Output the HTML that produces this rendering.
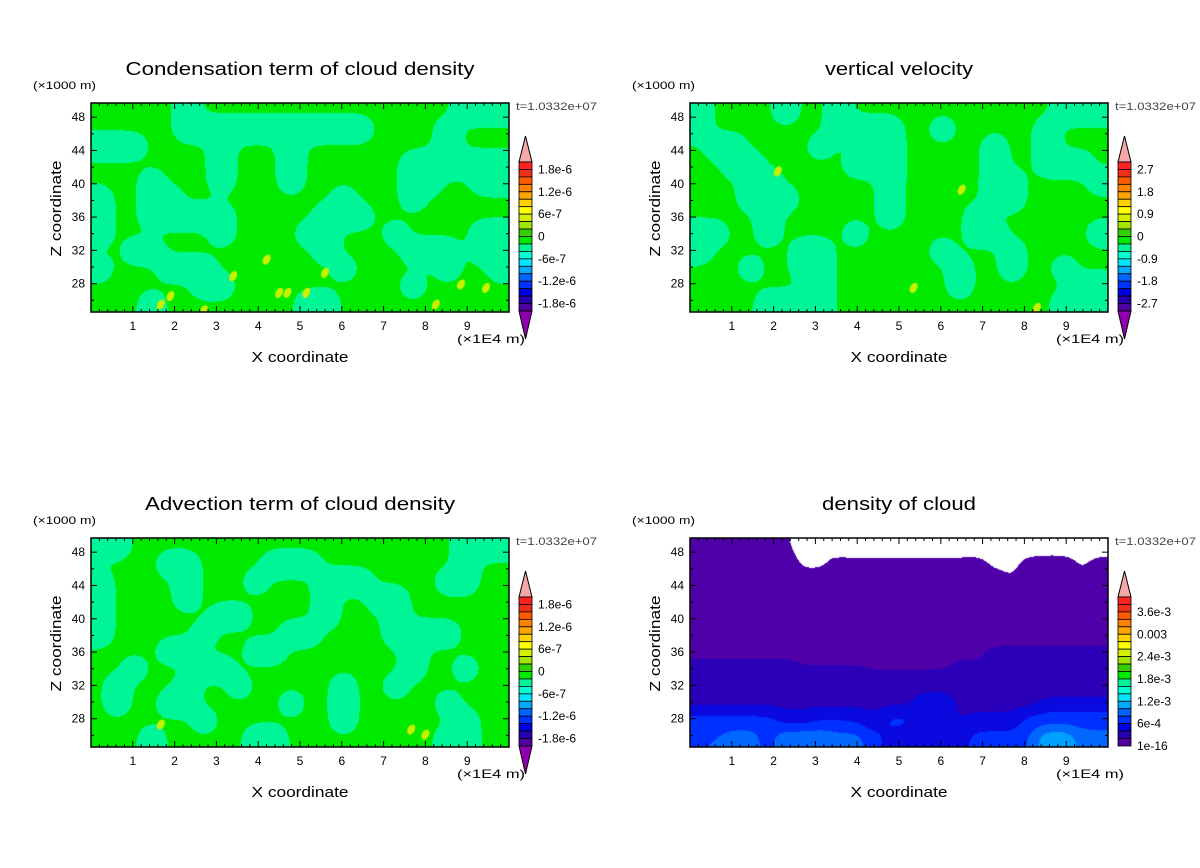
<!DOCTYPE html>
<html><head><meta charset="utf-8">
<style>
html,body{margin:0;padding:0;background:#fff;}
#root{position:relative;width:1200px;height:868px;overflow:hidden;background:#fff;}
canvas{position:absolute;}
svg{position:absolute;left:0;top:0;}
text{font-family:"Liberation Sans",sans-serif;fill:#000;}
</style></head>
<body>
<div id="root">
<canvas id="c1" width="418" height="209" style="left:91px;top:103px"></canvas>
<canvas id="c2" width="418" height="209" style="left:690px;top:103px"></canvas>
<canvas id="c3" width="418" height="209" style="left:91px;top:538px"></canvas>
<canvas id="c4" width="418" height="209" style="left:690px;top:538px"></canvas>
<svg id="ov" width="1200" height="868"></svg>
</div>
<script>
// ---- data ----
const xTicks = [1,2,3,4,5,6,7,8,9];
const yTicks = [28,32,36,40,44,48];
const xRange = [0,10];
const yRange = [24.6,49.7];
const cbColors = ["#FF2020","#F03018","#FF5A00","#FF8200","#FFA500","#FFD200","#FFFF00","#D2F000","#A0E600","#32D200","#00EA00","#00F596","#00FFD2","#00E6FF","#00AAFF","#0064FF","#0032FF","#0000E6","#2800B4","#5000A0"];
const cbLabels1 = ["1.8e-6","1.2e-6","6e-7","0","-6e-7","-1.2e-6","-1.8e-6"];
const cbLabels2 = ["2.7","1.8","0.9","0","-0.9","-1.8","-2.7"];
const cbLabels4 = ["3.6e-3","0.003","2.4e-3","1.8e-3","1.2e-3","6e-4","1e-16"];
const greenLevels = ["#00F596","#00EA00"];
const densityLevels = ["#FFFFFF","#5000A8","#2C00B8","#0A0AE0","#0030FF","#0068FF","#00A0FF","#00E8FF"];
const grid1 = [
"111110111111111111111000","111110000000000011110111","000111101110111111110111",
"111111101110111111000000","111011101110111111001100","011001111111110111011111",
"011000001111100011111111","011111101111001110111100","110011111111101111000100",
"011100011111110111110110","111111001111111111011111","111011111111001111111111"];
const grid2 = [
"011110110111111111111000","011111110000110111110111","100111101100111110110111",
"110011111000111110110001","111001111110111110011110","111000111110111110011111",
"111101111110111101111111","001101111011111100111110","011111001111110111011111",
"111011001111111011011011","111111101111111011111100","111100001111111111111000"];
const grid3 = [
"001111111111111111111000","111100111100011111111011","011110111011100011110011",
"011110111111101100111111","011111100111101110111111","011111011110011110000111",
"111100111001111111011111","110111001111111111011011","101110110111110110111111",
"101100111110110111110111","111111011111110111111011","111011111001111111110011"];
const grid4 = [
[0.7,0.7,0.7,0.7,0.6,0.6,0.2,0.6,0.2,0,0,0,0,0,0,0,0,0,0,0,0,0,0,0],
[1,1,1,1,1,1,0.3,0.3,0.7,0.8,0.8,0.8,0.8,0.8,0.8,0.8,0.9,0.3,0.3,0.9,1,1,0.4,0.9],
[0.6,0.6,0.6,0.7,1,1,1,1,1,1,1,1,1,1,1,1,1,1,0.5,1,1,1,0.5,1],
[1.1,1.1,1.1,1.1,1.1,1.1,1.1,1.1,1.1,1.1,1.1,1.1,1.1,1.1,1.1,1.1,1.1,1.1,1.1,1.1,1.1,1.1,1.1,1.1],
[1.1,1.1,1.1,0.6,0.6,0.6,1.1,1.1,1.1,1.1,1.1,1.1,1.1,1.1,1.1,1.1,1.1,1.1,1.1,1.1,1.1,1.1,1.1,1.1],
[1.1,1.1,1.1,1.1,1.1,1.1,1.1,1.1,1.1,1.1,1.1,1.1,1.1,1.1,1.1,1.1,1.1,1.1,1.1,1.1,1.1,1.1,1.1,1.1],
[1.1,1.1,1.1,1.1,1.1,1.1,1.1,1.1,1.1,1.1,1.4,1.4,1.4,1.4,1.4,1.4,1.4,1.7,1.7,1.7,1.7,1.7,1.7,1.7],
[2,2,2,2,2,2,1.6,1.6,1.6,1.6,1.4,1.4,1.4,1.4,1.4,1.6,1.6,1.6,1.5,1.5,1.5,1.5,1.5,1.5],
[2,2,2,2,2,2,2,2,2,2,2,2,2,2,2,2,2,1.6,1.6,1.6,1.6,1.6,1.6,1.6],
[2.2,2.2,2.2,2.2,2.2,2.2,2.2,2.2,2.2,2.2,2.2,2.2,2.2,3.5,3.5,2.2,2.2,2.2,2.2,2.2,3,3,3,3],
[4,4,4,4,4,3,3,3.5,3.5,3.5,2.6,4,4,2.5,2.5,2.5,2.8,2.8,2.8,4,4,4,4,4],
[4.5,4.5,5,5,4,5.5,5.5,5.5,5,5,4,3,2.5,2.5,3,3,4,4,4,4.5,6.5,6.5,5,5]];
const spots1X = [1.67,1.9,3.4,4.2,4.5,4.7,5.15,5.6,8.25,8.85,9.45,2.7];
const spots1Y = [25.5,26.5,28.9,30.9,26.9,26.9,26.9,29.3,25.5,27.9,27.5,24.8];
const spots2X = [2.1,6.5,5.35,8.3];
const spots2Y = [41.5,39.3,27.5,25.1];
const spots3X = [1.67,7.66,8.0];
const spots3Y = [27.3,26.7,26.1];

// ---- layout ----
const W=418,H=209;
const panels = [
 {id:'c1',ox:91,oy:103,title:'Condensation term of cloud density',tl:349,grid:grid1,sx:spots1X,sy:spots1Y,labels:cbLabels1,lo:1,bottomTri:true,key:'condensation'},
 {id:'c2',ox:690,oy:103,title:'vertical velocity',tl:148,grid:grid2,sx:spots2X,sy:spots2Y,labels:cbLabels2,lo:1,bottomTri:true,key:'velocity'},
 {id:'c3',ox:91,oy:538,title:'Advection term of cloud density',tl:310,grid:grid3,sx:spots3X,sy:spots3Y,labels:cbLabels1,lo:1,bottomTri:true,key:'advection'},
 {id:'c4',ox:690,oy:538,title:'density of cloud',tl:154,grid:grid4,sx:[],sy:[],labels:cbLabels4,lo:2,bottomTri:false,key:'density'}
];
const NS='http://www.w3.org/2000/svg';
const ov=document.getElementById('ov');
function mk(tag,attrs,parent){const e=document.createElementNS(NS,tag);for(const k in attrs)e.setAttribute(k,attrs[k]);(parent||ov).appendChild(e);return e;}

function sampleGrid(g,numeric,px,py){
  const rows=g.length, cols=g[0].length;
  const gx=px/W*cols-0.5, gy=py/H*rows-0.5;
  const s=numeric?0.55:0.6, inv=1/(2*s*s);
  let sum=0,wsum=0;
  const c0=Math.floor(gx),r0=Math.floor(gy);
  for(let r=r0-2;r<=r0+3;r++){
    const rr=Math.max(0,Math.min(rows-1,r));
    for(let c=c0-2;c<=c0+3;c++){
      const cc=Math.max(0,Math.min(cols-1,c));
      const d=(c-gx)*(c-gx)+(r-gy)*(r-gy);
      const w=Math.exp(-d*inv);
      sum+=w*(numeric?g[rr][cc]:+g[rr][cc]);wsum+=w;
    }
  }
  return sum/wsum;
}
function hex(h){return [parseInt(h.substr(1,2),16),parseInt(h.substr(3,2),16),parseInt(h.substr(5,2),16)];}

panels.forEach((p,pi)=>{
  const cv=document.getElementById(p.id), ctx=cv.getContext('2d');
  const img=ctx.createImageData(W,H);
  const numeric=pi===3;
  const pal=(numeric?densityLevels:greenLevels).map(hex);
  for(let y=0;y<H;y++)for(let x=0;x<W;x++){
    const v=sampleGrid(p.grid,numeric,x+0.5,y+0.5);
    let k=numeric?Math.round(v):(v>=0.8?1:0);
    k=Math.max(0,Math.min(pal.length-1,k));
    const i=(y*W+x)*4;img.data[i]=pal[k][0];img.data[i+1]=pal[k][1];img.data[i+2]=pal[k][2];img.data[i+3]=255;
  }
  ctx.putImageData(img,0,0);
  const xs=v=>(v-xRange[0])/(xRange[1]-xRange[0])*W;
  const ys=v=>(yRange[1]-v)/(yRange[1]-yRange[0])*H;
  for(let i=0;i<p.sx.length;i++){
    ctx.fillStyle='#C8F000';ctx.beginPath();
    ctx.ellipse(xs(p.sx[i]),ys(p.sy[i]),3.5,5.5,0.5,0,Math.PI*2);ctx.fill();
  }

  const X=v=>p.ox+xs(v), Y=v=>p.oy+ys(v);
  const g=mk('g',{});
  
  
  const fr=mk('rect',{x:p.ox,y:p.oy,width:W,height:H,fill:'none',stroke:'#000','stroke-width':1.5},g);
  
  
  for(let t=0;t<=50;t++){
    const v=t*0.2, major=t%5===0, L=major?6:3, x=X(v);
    mk('line',{x1:x,y1:p.oy+H,x2:x,y2:p.oy+H-L,stroke:'#000','stroke-width':1},g);
    mk('line',{x1:x,y1:p.oy,x2:x,y2:p.oy+L,stroke:'#000','stroke-width':1},g);
  }
  xTicks.forEach(v=>{
    const t=mk('text',{x:X(v),y:p.oy+H+18,'font-size':12,'text-anchor':'middle'},g);t.textContent=v;
    
    
  });
  for(let v=26;v<=48;v+=2){
    const major=v%4===0,L=major?6:3,y=Y(v);
    mk('line',{x1:p.ox,y1:y,x2:p.ox+L,y2:y,stroke:'#000'},g);
    mk('line',{x1:p.ox+W,y1:y,x2:p.ox+W-L,y2:y,stroke:'#000'},g);
  }
  yTicks.forEach(v=>{
    const t=mk('text',{x:p.ox-6,y:Y(v)+4,'font-size':12,'text-anchor':'end'},g);t.textContent=v;
    
    
  });
  const cx=p.ox+W/2;
  let t=mk('text',{x:cx,y:p.oy-28,'font-size':18,'text-anchor':'middle',textLength:p.tl,lengthAdjust:'spacingAndGlyphs'},g);t.textContent=p.title;
  
  
  t=mk('text',{x:p.ox-58,y:p.oy-14,'font-size':11,textLength:63,lengthAdjust:'spacingAndGlyphs'},g);t.textContent='(×1000 m)';
  
  
  t=mk('text',{x:p.ox+W+7,y:p.oy+7,'font-size':11,textLength:81,lengthAdjust:'spacingAndGlyphs',style:'fill:#444'},g);t.textContent='t=1.0332e+07';
  
  
  t=mk('text',{x:p.ox+W-52,y:p.oy+H+31,'font-size':12,textLength:68,lengthAdjust:'spacingAndGlyphs'},g);t.textContent='(×1E4 m)';
  
  
  t=mk('text',{x:cx,y:p.oy+H+50,'font-size':15,'text-anchor':'middle',textLength:97,lengthAdjust:'spacingAndGlyphs'},g);t.textContent='X coordinate';
  
  
  const zy=p.oy+H/2+1;
  t=mk('text',{x:p.ox-30,y:zy,'font-size':15,'text-anchor':'middle',transform:`rotate(-90 ${p.ox-30} ${zy})`,textLength:96,lengthAdjust:'spacingAndGlyphs'},g);t.textContent='Z coordinate';
  
  
  const cbx=p.ox+W+10, cbw=13, cbt=p.oy+59, bh=7.45;
  const cb=mk('g',{},g);
  
  
  mk('polygon',{points:`${cbx},${cbt} ${cbx+cbw},${cbt} ${cbx+cbw/2},${cbt-26}`,fill:'#F4A8A8',stroke:'#000'},cb);
  cbColors.forEach((c,i)=>{
    const r=mk('rect',{x:cbx,y:cbt+i*bh,width:cbw,height:bh,fill:c,stroke:'#000','stroke-width':0.8},cb);
    
    
  });
  const cbb=cbt+20*bh;
  if(p.bottomTri) mk('polygon',{points:`${cbx},${cbb} ${cbx+cbw},${cbb} ${cbx+cbw/2},${cbb+28}`,fill:'#9000B0',stroke:'#000'},cb);
  p.labels.forEach((s,i)=>{
    const b=p.lo+3*i;
    const l=mk('text',{x:cbx+cbw+6,y:cbt+b*bh+4,'font-size':12},cb);l.textContent=s;
    
    
  });
});
</script>
</body></html>
